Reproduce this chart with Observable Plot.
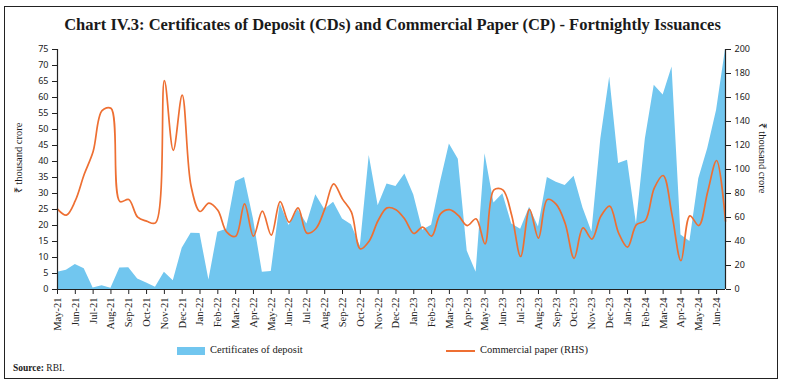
<!DOCTYPE html>
<html><head><meta charset="utf-8">
<script src="https://cdn.jsdelivr.net/npm/d3@7"></script>
<script src="https://cdn.jsdelivr.net/npm/@observablehq/plot@0.6"></script>
<style>
body{margin:0;background:#fff;}
#wrap{position:relative;width:785px;height:387px;overflow:hidden;font-family:"Liberation Serif",serif;color:#1a1a1a;background:#fff;}
#frame{position:absolute;left:4px;top:6px;width:772px;height:371px;border:1.5px solid #222;}
#title{position:absolute;left:0;width:785px;top:15px;text-align:center;font-size:16.5px;font-weight:bold;white-space:nowrap;}
#chart{position:absolute;left:0;top:0;}
.ylab{position:absolute;font-size:10.5px;white-space:nowrap;transform-origin:center;}
#yl{left:-17px;top:151px;transform:rotate(-90deg);}
#yr{left:728px;top:151px;transform:rotate(90deg);}
.leg{position:absolute;top:344px;font-size:10.5px;white-space:nowrap;}
.sw{display:inline-block;vertical-align:middle;margin-right:5px;}
#source{position:absolute;left:13px;top:363px;font-size:9.5px;}
</style></head><body>
<div id="wrap">
  <div id="frame"></div>
  <div id="title">Chart IV.3: Certificates of Deposit (CDs) and Commercial Paper (CP) - Fortnightly Issuances</div>
  <div id="chart"></div>
  <div class="ylab" id="yl">₹ thousand crore</div>
  <div class="ylab" id="yr">₹ thousand crore</div>
  <div class="leg" style="left:177px"><span class="sw" style="width:28px;height:8px;background:#71C6EF"></span>Certificates of deposit</div>
  <div class="leg" style="left:446px"><span class="sw" style="width:29px;height:2px;background:#EE6F32"></span>Commercial paper (RHS)</div>
  <div id="source"><b>Source:</b> RBI.</div>
</div>
<script>
const months = ["May-21","Jun-21","Jul-21","Aug-21","Sep-21","Oct-21","Nov-21","Dec-21",
"Jan-22","Feb-22","Mar-22","Apr-22","May-22","Jun-22","Jul-22","Aug-22","Sep-22","Oct-22","Nov-22","Dec-22",
"Jan-23","Feb-23","Mar-23","Apr-23","May-23","Jun-23","Jul-23","Aug-23","Sep-23","Oct-23","Nov-23","Dec-23",
"Jan-24","Feb-24","Mar-24","Apr-24","May-24","Jun-24"];

// Certificates of deposit, fortnightly, ₹ thousand crore (LHS)
const cd = [5.4,6.0,7.8,6.5,0.5,1.2,0.4,6.7,6.8,3.3,2.0,0.7,5.4,2.7,12.9,17.6,17.5,3.0,17.9,18.8,
33.7,35.0,22,5.4,5.6,26.8,20,25,20.5,29.6,25,27.3,22,20.2,13.5,41.9,26.2,33,32.2,36.1,
29.5,18.5,20.1,33.5,45.5,40.7,12,5.4,42.4,27,29.9,20.5,18.8,25.7,19.5,35,33.5,32.5,35.4,25.5,
18,47,66.4,39.4,40.4,20.5,47,63.8,60.8,69.5,17,15,34.6,44,56,75];

// Commercial paper, fortnightly, ₹ thousand crore (RHS)
const cp = [67,62,74,96,115,149,151,73.3,75,60.3,57,55.5,174,116,162,86,65,72,66,47.8,
44.4,71.4,44.4,65.3,45.3,73.3,56,68,47,50.6,67,88,75.3,64.4,33.9,40.5,57.5,68,66.5,58.5,
46.7,52,44.5,63,66.5,61.7,53.3,58.9,38,83,83,61.7,27.5,66.7,42.8,75,71,55,26,51.3,
42,61,69.5,47,35.3,54,57.5,84.5,95,62,24,61.4,53.3,81.5,107.5,57];

const leftTicks = d3.range(0, 76, 5);
const rightTicks = d3.range(0, 201, 20);
const k = 75 / 200;
const data = cd.map((v, i) => ({i, cd: v, cp: cp[i] * k}));

const tickFont = "'Noto Sans', sans-serif";
const plot = Plot.plot({
  width: 785, height: 387,
  marginTop: 49, marginLeft: 57, marginRight: 60, marginBottom: 98,
  style: {fontFamily: "'Liberation Serif', serif", background: "transparent", color: "#222"},
  x: {type: "linear", domain: [0, cd.length - 1]},
  y: {domain: [0, 75]},
  marks: [
    Plot.areaY(data, {x: "i", y: "cd", fill: "#71C6EF"}),
    Plot.line(data, {x: "i", y: "cp", stroke: "#EE6F32", strokeWidth: 1.7, curve: "catmull-rom"}),
    Plot.ruleY([0], {stroke: "#222", strokeWidth: 1.2}),
    Plot.ruleX([0, cd.length - 1], {stroke: "#222", strokeWidth: 1.2}),
    Plot.axisY({anchor: "left", ticks: leftTicks, tickSize: 5, tickPadding: 4, fontSize: 9, fontFamily: tickFont, label: null, color: "#222"}),
    Plot.axisY({anchor: "right", ticks: rightTicks.map(v => v * k), tickFormat: d => Math.round(d / k), tickSize: 5, tickPadding: 4, fontSize: 9, fontFamily: tickFont, label: null, color: "#222"}),
    Plot.axisX({ticks: months.map((m, j) => j * 2), tickFormat: d => months[d / 2], tickRotate: -90, tickSize: 5, tickPadding: 3, fontSize: 10.5, label: null, color: "#222"})
  ]
});
document.getElementById("chart").appendChild(plot);
</script>
</body></html>
